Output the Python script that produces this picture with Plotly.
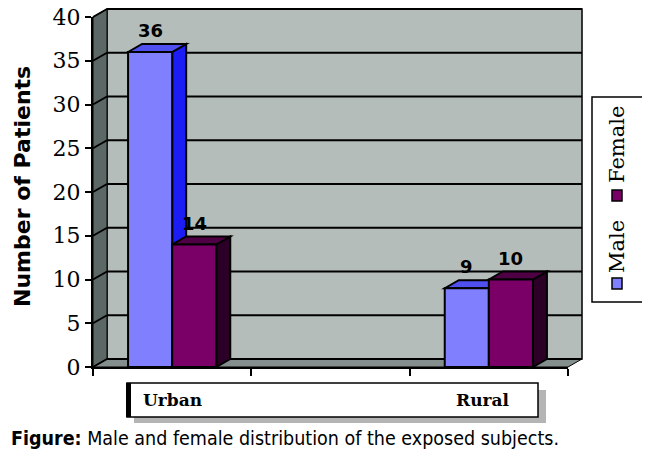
import plotly.graph_objects as go

# values (middle slot is empty in the original)
categories = ["Urban", "", "Rural"]
male = [36, None, 9]
female = [14, None, 10]
y_ticks = [0, 5, 10, 15, 20, 25, 30, 35, 40]

W, H = 650, 458
PAGE_OFF = 8            # default body margin of the html page
# plot area in screen pixels (front face of the 3d box)
X0, X1, YT, YB = 93, 568, 17, 367
DX, DY = 14, 8          # depth of the 3d effect, px
BARGAP = 0.443

MALE_C = ["#8080ff", "#5050f0", "#1c1cf5"]       # front, top, side
FEMALE_C = ["#7a0068", "#4f0045", "#2c0026"]


def px_x(x):
    return (x - X0) / (X1 - X0)


def px_y(y):
    return (YB - y) / (YB - YT)


def paper_path(pts):
    return "M " + " L ".join(f"{px_x(a):.4f},{px_y(b):.4f}" for a, b in pts) + " Z"


def note(x, y, text, size, family, weight="normal", angle=0, xanchor="center", **kw):
    return dict(x=px_x(x), y=px_y(y), xref="paper", yref="paper", text=text, showarrow=False,
                textangle=angle, xanchor=xanchor, yanchor="middle",
                font=dict(family=family, size=size, color="black", weight=weight), **kw)


px_per_cat = (X1 - X0) / len(categories)
px_per_unit = (YB - YT) / (y_ticks[-1] - y_ticks[0])
dx = DX / px_per_cat
dy = DY / px_per_unit
bw = (1 - BARGAP) / 2

shapes = []
# walls and floor
shapes.append(dict(type="path", xref="paper", yref="paper", layer="below",
                   path=paper_path([(X0 + DX, YT - DY), (X1 + DX, YT - DY), (X1 + DX, YB - DY), (X0 + DX, YB - DY)]),
                   fillcolor="#b5bdba", line=dict(color="black", width=1.5)))
shapes.append(dict(type="path", xref="paper", yref="paper", layer="below",
                   path=paper_path([(X0, YB), (X0 + DX, YB - DY), (X0 + DX, YT - DY), (X0, YT)]),
                   fillcolor="#5c6866", line=dict(color="black", width=1)))
shapes.append(dict(type="path", xref="paper", yref="paper", layer="below",
                   path=paper_path([(X0, YB), (X1, YB), (X1 + DX, YB - DY), (X0 + DX, YB - DY)]),
                   fillcolor="#848e8c", line=dict(color="black", width=1)))
# gridlines on back wall + slant on the left wall
for v in y_ticks:
    yp = YB - (v - y_ticks[0]) * px_per_unit
    shapes.append(dict(type="line", xref="paper", yref="paper", layer="below",
                       x0=px_x(X0 + DX), x1=px_x(X1 + DX), y0=px_y(yp - DY), y1=px_y(yp - DY),
                       line=dict(color="black", width=2)))
    shapes.append(dict(type="line", xref="paper", yref="paper", layer="below",
                       x0=px_x(X0), x1=px_x(X0 + DX), y0=px_y(yp), y1=px_y(yp - DY),
                       line=dict(color="black", width=2)))

# 3d top and side faces of the bars
annotations = []
for i in range(len(categories)):
    for vals, cols, xl in ((male, MALE_C, i - bw), (female, FEMALE_C, i)):
        v = vals[i]
        if v is None:
            continue
        xr = xl + bw
        shapes.append(dict(type="path", xref="x", yref="y", layer="below",
                           path=f"M {xr},0 L {xr + dx},{dy} L {xr + dx},{v + dy} L {xr},{v} Z",
                           fillcolor=cols[2], line=dict(color="black", width=2)))
        shapes.append(dict(type="path", xref="x", yref="y", layer="below",
                           path=f"M {xl},{v} L {xl + dx},{v + dy} L {xr + dx},{v + dy} L {xr},{v} Z",
                           fillcolor=cols[1], line=dict(color="black", width=2)))
        annotations.append(dict(x=(xl + xr) / 2, y=v + dy, xref="x", yref="y", text=str(v),
                                showarrow=False, xanchor="center", yanchor="bottom", yshift=1,
                                font=dict(family="DejaVu Sans", size=18, color="black", weight="bold")))

fig = go.Figure()
fig.add_trace(go.Bar(x=list(range(len(categories))), y=male, name="Male",
                     marker=dict(color=MALE_C[0], line=dict(color="black", width=2))))
fig.add_trace(go.Bar(x=list(range(len(categories))), y=female, name="Female",
                     marker=dict(color=FEMALE_C[0], line=dict(color="black", width=2))))

# category label box with shadow
shapes.append(dict(type="rect", xref="paper", yref="paper", x0=px_x(134), x1=px_x(546),
                   y0=px_y(423), y1=px_y(390), fillcolor="#b4b4b4", line=dict(width=0)))
shapes.append(dict(type="rect", xref="paper", yref="paper", x0=px_x(127), x1=px_x(538),
                   y0=px_y(417), y1=px_y(383), fillcolor="white", line=dict(color="black", width=1.5)))
shapes.append(dict(type="rect", xref="paper", yref="paper", x0=px_x(126), x1=px_x(131),
                   y0=px_y(417), y1=px_y(383), fillcolor="black", line=dict(width=0)))
for i, c in enumerate(categories):
    if c:
        annotations.append(dict(x=i - 0.02 * i, y=px_y(400), xref="x", yref="paper", text=c,
                                showarrow=False, xanchor="center", yanchor="middle",
                                font=dict(family="DejaVu Serif", size=17, color="black", weight="bold")))

# legend (rotated, drawn by hand)
shapes.append(dict(type="rect", xref="paper", yref="paper", x0=px_x(592), x1=px_x(643),
                   y0=px_y(302), y1=px_y(97), fillcolor="white", line=dict(color="black", width=1.5)))
for name, col, sq_top, txt_y in (("Male", MALE_C[0], 278, 247), ("Female", FEMALE_C[0], 190, 145)):
    shapes.append(dict(type="rect", xref="paper", yref="paper", x0=px_x(612), x1=px_x(622),
                       y0=px_y(sq_top + 11), y1=px_y(sq_top), fillcolor=col,
                       line=dict(color="black", width=1.5)))
    annotations.append(note(617, txt_y, name, 21, "DejaVu Serif", angle=-90))

# axis title and caption
annotations.append(note(22, 187, "Number of Patients", 22, "DejaVu Sans", weight="bold", angle=-90))
annotations.append(note(PAGE_OFF + 1, 438, "<b>Figure:</b> Male and female distribution of the exposed subjects.",
                        19.5, "Liberation Sans Narrow, DejaVu Sans Condensed", xanchor="left"))

fig.update_layout(
    width=W, height=H,
    margin=dict(l=X0 - PAGE_OFF, r=W - X1 + PAGE_OFF, t=YT - PAGE_OFF, b=H - YB + PAGE_OFF),
    paper_bgcolor="white", plot_bgcolor="rgba(0,0,0,0)",
    barmode="group", bargap=BARGAP, bargroupgap=0,
    showlegend=False,
    shapes=shapes, annotations=annotations,
    xaxis=dict(range=[-0.5, len(categories) - 0.5], showgrid=False, zeroline=False, automargin=False,
               showline=True, linecolor="black", linewidth=2,
               ticks="outside", ticklen=7, tickcolor="black", tickwidth=1.5,
               tickvals=[k - 0.5 for k in range(len(categories) + 1)], showticklabels=False),
    yaxis=dict(range=[y_ticks[0], y_ticks[-1]], tickvals=y_ticks, showgrid=False, zeroline=False,
               automargin=False, ticklabeloverflow="allow",
               showline=True, linecolor="black", linewidth=2,
               ticks="outside", ticklen=6, tickcolor="black", tickwidth=1.5,
               tickfont=dict(family="DejaVu Serif", size=22, color="black")),
)

fig.write_html("out.html")
